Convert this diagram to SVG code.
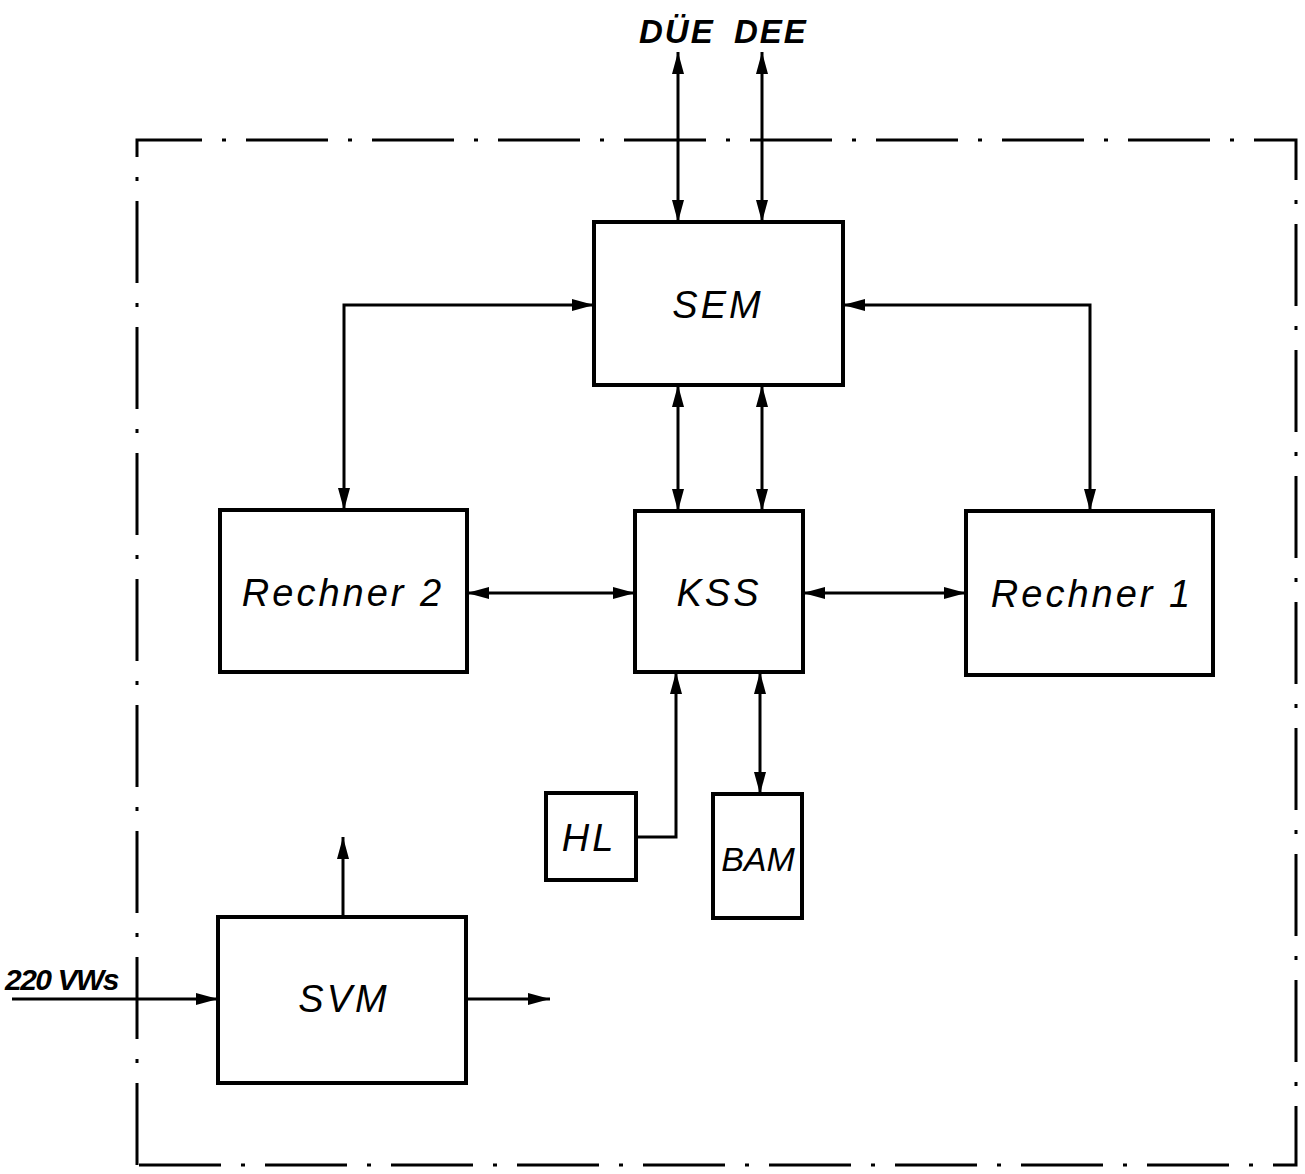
<svg xmlns="http://www.w3.org/2000/svg" width="1305" height="1174" viewBox="0 0 1305 1174">
<style>
.box{fill:#fff;stroke:#000;stroke-width:4}
.ln{fill:none;stroke:#000;stroke-width:3}
.lbl{font-family:"Liberation Sans",Arial,sans-serif;font-style:italic;font-size:38px;letter-spacing:3px;text-anchor:middle;fill:#000}
.top{font-family:"Liberation Sans",Arial,sans-serif;font-style:italic;font-weight:bold;font-size:33px;letter-spacing:2px;fill:#000}
</style>
<defs>
<marker id="ah" viewBox="0 0 22 12" refX="22" refY="6" markerWidth="22" markerHeight="12" markerUnits="userSpaceOnUse" orient="auto-start-reverse">
<path d="M0,0 L22,6 L0,12 Z" fill="#000"/>
</marker>
</defs>
<rect width="1305" height="1174" fill="#fff"/>
<g id="frame">
<path d="M137,1165 L137,140 L1296,140 L1296,1165 Z" fill="none" stroke="#000" stroke-width="3" stroke-dasharray="82 20 4 20"/>
</g>
<g id="connectors">
<line class="ln" x1="678" y1="52" x2="678" y2="222" marker-start="url(#ah)" marker-end="url(#ah)"/>
<line class="ln" x1="762" y1="52" x2="762" y2="222" marker-start="url(#ah)" marker-end="url(#ah)"/>
<polyline class="ln" points="594,305 344,305 344,510" marker-start="url(#ah)" marker-end="url(#ah)"/>
<polyline class="ln" points="843,305 1090,305 1090,511" marker-start="url(#ah)" marker-end="url(#ah)"/>
<line class="ln" x1="678" y1="385" x2="678" y2="511" marker-start="url(#ah)" marker-end="url(#ah)"/>
<line class="ln" x1="762" y1="385" x2="762" y2="511" marker-start="url(#ah)" marker-end="url(#ah)"/>
<line class="ln" x1="467" y1="593" x2="635" y2="593" marker-start="url(#ah)" marker-end="url(#ah)"/>
<line class="ln" x1="803" y1="593" x2="966" y2="593" marker-start="url(#ah)" marker-end="url(#ah)"/>
<polyline class="ln" points="636,837 676,837 676,672" marker-end="url(#ah)"/>
<line class="ln" x1="760" y1="672" x2="760" y2="794" marker-start="url(#ah)" marker-end="url(#ah)"/>
<line class="ln" x1="343" y1="917" x2="343" y2="837" marker-end="url(#ah)"/>
<line class="ln" x1="12" y1="999" x2="218" y2="999" marker-end="url(#ah)"/>
<line class="ln" x1="466" y1="999" x2="550" y2="999" marker-end="url(#ah)"/>
</g>
<g id="SEM"><rect class="box" x="594" y="222" width="249" height="163"/><text class="lbl" x="718" y="318">SEM</text></g>
<g id="Rechner2"><rect class="box" x="220" y="510" width="247" height="162"/><text class="lbl" x="343" y="606">Rechner 2</text></g>
<g id="KSS"><rect class="box" x="635" y="511" width="168" height="161"/><text class="lbl" x="719" y="606">KSS</text></g>
<g id="Rechner1"><rect class="box" x="966" y="511" width="247" height="164"/><text class="lbl" x="1092" y="607">Rechner 1</text></g>
<g id="HL"><rect class="box" x="546" y="793" width="90" height="87"/><text class="lbl" x="589" y="851">HL</text></g>
<g id="BAM"><rect class="box" x="713" y="794" width="89" height="124"/><text class="lbl" x="758" y="871" style="letter-spacing:0px;font-size:34px">BAM</text></g>
<g id="SVM"><rect class="box" x="218" y="917" width="248" height="166"/><text class="lbl" x="344" y="1012">SVM</text></g>
<g id="labels">
<text class="top" x="5" y="990" style="font-size:30px;letter-spacing:-1.5px">220 VWs</text>
<text class="top" x="639" y="43">DÜE</text>
<text class="top" x="734" y="43">DEE</text>
</g>
</svg>
